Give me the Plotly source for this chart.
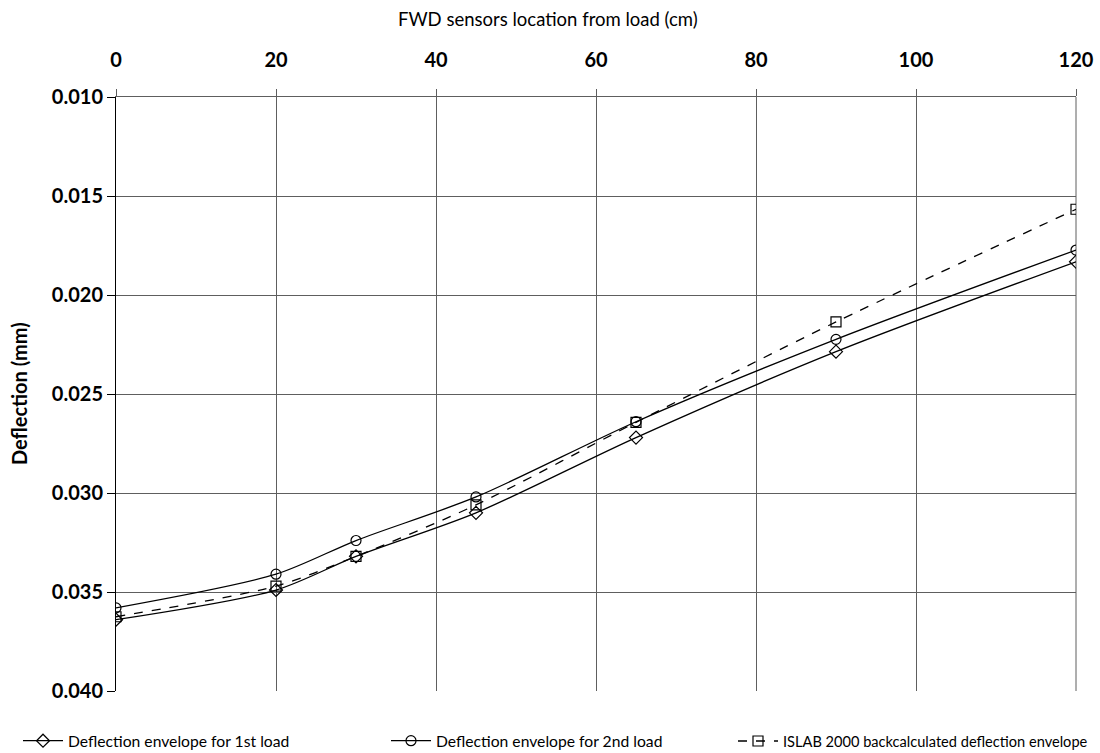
import plotly.graph_objects as go

x_cm = [0, 20, 30, 45, 65, 90, 120]
load1 = [0.0364, 0.0349, 0.0332, 0.0310, 0.0272, 0.02286, 0.01832]
load2 = [0.0358, 0.0341, 0.0324, 0.0302, 0.0264, 0.02224, 0.01773]
islab = [0.03625, 0.0347, 0.0332, 0.0306, 0.02643, 0.02136, 0.01567]

names = ["Deflection envelope for 1st load",
         "Deflection envelope for 2nd load",
         "ISLAB 2000 backcalculated deflection envelope"]

x_ticks = [0, 20, 40, 60, 80, 100, 120]
y_ticks = [0.010, 0.015, 0.020, 0.025, 0.030, 0.035, 0.040]

FONT = "Lato"
W, H = 1100, 753
ML, MR, MT, MB = 116, 24, 97, 62
PW, PH = W - ML - MR, H - MT - MB
GRID = "#5e5e5e"


def px_x(px):
    return (px - ML) / PW


def px_y(py):
    return (H - MB - py) / PH


fig = go.Figure()
specs = [
    (load1, "diamond-open", "solid", names[0], "legend"),
    (load2, "circle-open", "solid", names[1], "legend2"),
    (islab, "square-open", "dash", names[2], "legend3"),
]
for ys, sym, dash, nm, lg in specs:
    fig.add_trace(go.Scatter(
        x=x_cm, y=ys, name=nm, mode="lines+markers", legend=lg,
        line=dict(color="black", width=1.3, dash=dash, shape="spline", smoothing=0.8),
        marker=dict(symbol=sym, size=10, color="black", line=dict(width=1.2, color="black")),
    ))


def leg(xpx, size):
    return dict(orientation="h", xref="container", yref="container",
                xanchor="left", yanchor="middle", y=1 - 741 / H, x=xpx / W,
                font=dict(size=size, family=FONT, color="black"),
                bgcolor="rgba(0,0,0,0)", itemwidth=40)


fig.update_layout(
    width=W, height=H,
    margin=dict(l=ML, r=MR, t=MT, b=MB, autoexpand=False),
    paper_bgcolor="white", plot_bgcolor="white",
    font=dict(family=FONT, color="black"),
    showlegend=True,
    legend=leg(18, 15.7),
    legend2=leg(386, 15.7),
    legend3=leg(733, 14.6),
    shapes=[dict(type="line", xref="paper", yref="paper", x0=1, x1=1, y0=0, y1=1,
                 line=dict(color=GRID, width=1), layer="below")],
    annotations=[
        dict(text="FWD sensors location from load (cm)", xref="paper", yref="paper",
             x=px_x(548), y=px_y(19),
             xanchor="center", yanchor="middle", showarrow=False,
             font=dict(size=18.5, family=FONT, color="black")),
        dict(text="<b>Deflection (mm)</b>", xref="paper", yref="paper",
             x=px_x(19), y=0.5, textangle=-90, xanchor="center", yanchor="middle",
             showarrow=False, font=dict(size=20, family=FONT, color="black")),
    ],
)
fig.update_xaxes(
    side="top", range=[0, 120], tickvals=x_ticks,
    ticktext=[str(v) for v in x_ticks],
    tickfont=dict(size=20, family=FONT, color="black", weight="bold"),
    showgrid=True, gridcolor=GRID, gridwidth=1,
    ticks="outside", ticklen=7, tickcolor=GRID,
    showline=True, linecolor=GRID, mirror=False,
    zeroline=False, ticklabelstandoff=14,
)
fig.update_yaxes(
    range=[0.040, 0.010], tickvals=y_ticks,
    ticktext=[f"{v:.3f}" for v in y_ticks],
    tickfont=dict(size=20, family=FONT, color="black", weight="bold"),
    showgrid=True, gridcolor=GRID, gridwidth=1,
    ticks="outside", ticklen=8, tickcolor="black",
    showline=True, linecolor="black", linewidth=1, mirror=False,
    zeroline=False,
)

fig.write_html("out.html")
